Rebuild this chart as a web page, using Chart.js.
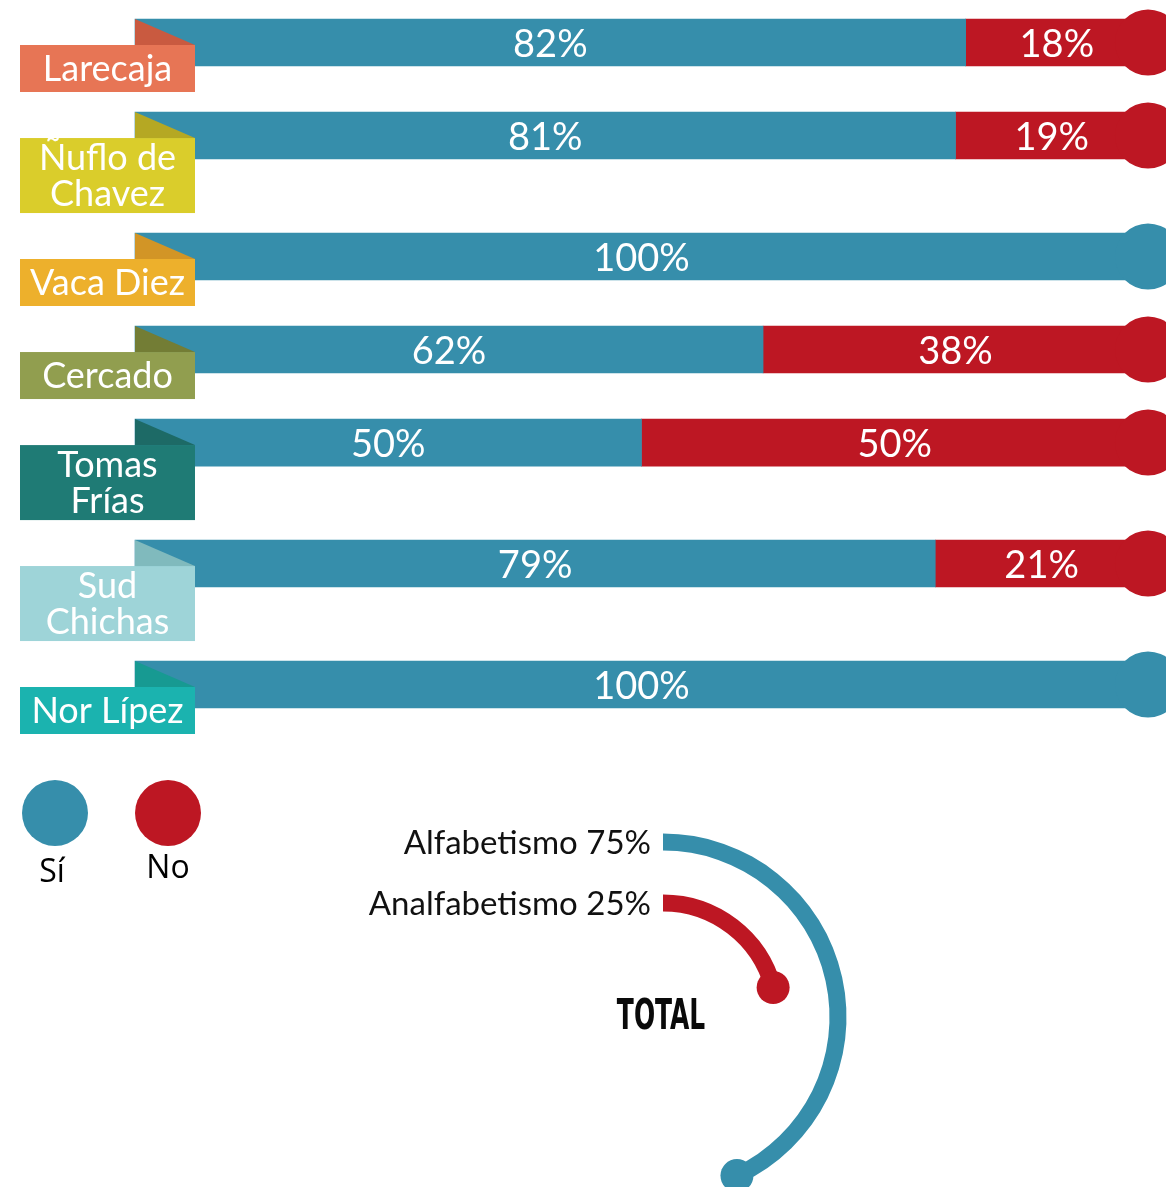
<!DOCTYPE html>
<html><head><meta charset="utf-8">
<script src="https://cdn.jsdelivr.net/npm/chart.js@4/dist/chart.umd.min.js"></script>
<style>
html,body{margin:0;padding:0;background:#fff;overflow:hidden;}
#wrap{position:relative;width:1166px;height:1187px;}
canvas{position:absolute;left:0;top:0;}
</style></head><body>
<div id="wrap">
<canvas id="bars" width="1166" height="1187"></canvas>
<canvas id="total" width="1166" height="1187"></canvas>
</div>
<script>
// ---------- DATA ----------
const categories = ['Larecaja', 'Ñuflo de\nChavez', 'Vaca Diez', 'Cercado', 'Tomas\nFrías', 'Sud\nChichas', 'Nor Lípez'];
const siValues = [82, 81, 100, 62, 50, 79, 100];
const noValues = [18, 19, 0, 38, 50, 21, 0];
const seriesNames = ['Sí', 'No'];
const totalLabels = ['Alfabetismo', 'Analfabetismo'];
const totalValues = [75, 25];
const totalTitle = 'TOTAL';

// ---------- STYLE ----------
const BLUE = '#368eab', RED = '#bd1723';
const boxColors  = ['#e77555', '#dacd2b', '#edb02c', '#919e4f', '#1f7b75', '#9ed4d8', '#1bb3af'];
const foldColors = ['#c95a40', '#b5a823', '#d29526', '#737d35', '#1d6a66', '#80babd', '#179a92'];
const LABEL_FONT = "Lato, 'Open Sans', sans-serif";
const arcSweepDeg = [155, 75]; // drawn sweep of each ring (design)

// rows: taller spacing after two-line labels
const lines = categories.map(c => c.split('\n'));
const rowPos = [];
lines.forEach((l, i) => rowPos.push(i === 0 ? 0 : rowPos[i - 1] + 1 + 0.3 * (lines[i - 1].length - 1)));

const ribbonPlugin = {
  id: 'ribbons',
  afterDatasetsDraw(chart) {
    const ctx = chart.ctx, xs = chart.scales.x, ys = chart.scales.y;
    const metas = [chart.getDatasetMeta(0), chart.getDatasetMeta(1)];
    const vals = [siValues, noValues];
    ctx.save();
    categories.forEach((cat, i) => {
      const cy = ys.getPixelForValue(rowPos[i]);
      const half = 23.5;
      const top = cy - half;
      // round cap at bar end
      ctx.fillStyle = noValues[i] > 0 ? RED : BLUE;
      ctx.beginPath();
      ctx.arc(xs.getPixelForValue(100), cy, 33, 0, Math.PI * 2);
      ctx.fill();
      // value labels
      ctx.fillStyle = '#fff';
      ctx.font = '38px ' + LABEL_FONT;
      ctx.textAlign = 'center';
      ctx.textBaseline = 'middle';
      metas.forEach((m, d) => {
        const v = vals[d][i];
        if (!v) return;
        const el = m.data[i];
        const p = el.getProps(['x', 'base', 'y'], true);
        ctx.fillText(v + '%', (p.x + p.base) / 2, p.y + 2);
      });
      // ribbon label
      const x0 = xs.left;
      const boxTop = top + 26;
      const boxH = lines[i].length > 1 ? 75 : 47;
      ctx.fillStyle = foldColors[i];
      ctx.beginPath();
      ctx.moveTo(x0, top);
      ctx.lineTo(x0, boxTop);
      ctx.lineTo(x0 + 60, boxTop);
      ctx.closePath();
      ctx.fill();
      ctx.fillStyle = boxColors[i];
      ctx.fillRect(20, boxTop, x0 + 60 - 20, boxH);
      ctx.fillStyle = '#fff';
      ctx.font = '36px ' + LABEL_FONT;
      const lh = 36;
      const cx = (20 + x0 + 60) / 2;
      const mid = boxTop + boxH / 2;
      lines[i].forEach((t, k) => {
        ctx.fillText(t, cx, mid + (k - (lines[i].length - 1) / 2) * lh + 1);
      });
    });
    // legend
    const legendX = [55, 168];
    [BLUE, RED].forEach((c, k) => {
      ctx.fillStyle = c;
      ctx.beginPath();
      ctx.arc(legendX[k], 813, 33, 0, Math.PI * 2);
      ctx.fill();
      ctx.fillStyle = '#000';
      ctx.font = "32px 'Open Sans', sans-serif";
      ctx.textAlign = 'center';
      ctx.textBaseline = 'middle';
      ctx.fillText(seriesNames[k], legendX[k] - (k === 0 ? 3 : 0), k === 0 ? 873 : 869);
    });
    ctx.restore();
  }
};

new Chart(document.getElementById('bars'), {
  type: 'bar',
  data: {
    datasets: [
      { label: seriesNames[0], data: siValues.map((v, i) => ({ y: rowPos[i], x: [0, v] })), backgroundColor: BLUE },
      { label: seriesNames[1], data: noValues.map((v, i) => ({ y: rowPos[i], x: [siValues[i], siValues[i] + v] })), backgroundColor: RED }
    ]
  },
  options: {
    indexAxis: 'y',
    responsive: false,
    animation: false,
    events: [],
    layout: { padding: { left: 135, right: 18, top: 42.5, bottom: 502.5 } },
    datasets: { bar: { barThickness: 47, borderWidth: 0, clip: false, grouped: false } },
    scales: {
      x: { type: 'linear', min: 0, max: 100, display: false, offset: false },
      y: { type: 'linear', min: 0, max: rowPos[rowPos.length - 1], reverse: true, display: false, offset: false }
    },
    plugins: { legend: { display: false }, tooltip: { enabled: false } }
  },
  plugins: [ribbonPlugin]
});

// ---------- TOTAL rings ----------
const totalPlugin = {
  id: 'totalDeco',
  afterDatasetsDraw(chart) {
    const ctx = chart.ctx;
    ctx.save();
    const ringIdx = [0, 2];
    const colors = [BLUE, RED];
    let cx0 = 0, cy0 = 0;
    ringIdx.forEach((di, k) => {
      const el = chart.getDatasetMeta(di).data[0];
      const p = el.getProps(['x', 'y', 'startAngle', 'endAngle', 'innerRadius', 'outerRadius'], true);
      const r = (p.innerRadius + p.outerRadius) / 2;
      cx0 = p.x; cy0 = p.y;
      // end dot
      ctx.fillStyle = colors[k];
      ctx.beginPath();
      ctx.arc(p.x + r * Math.cos(p.endAngle), p.y + r * Math.sin(p.endAngle), 16.5, 0, Math.PI * 2);
      ctx.fill();
      // label at arc start
      const sx = p.x + r * Math.cos(p.startAngle), sy = p.y + r * Math.sin(p.startAngle);
      ctx.fillStyle = '#111';
      ctx.font = '33px ' + LABEL_FONT;
      ctx.textAlign = 'right';
      ctx.textBaseline = 'middle';
      ctx.fillText(totalLabels[k] + ' ' + totalValues[k] + '%', sx - 12, sy + 1);
    });
    // title
    ctx.font = "bold 42px 'Liberation Sans Narrow', 'DejaVu Sans Condensed', sans-serif";
    ctx.fillStyle = '#0a0a0a';
    ctx.textAlign = 'center';
    ctx.textBaseline = 'middle';
    ctx.translate(cx0 - 2, cy0 + 1);
    ctx.scale(0.66, 1);
    ctx.fillText(totalTitle, 0, 0);
    ctx.restore();
  }
};

new Chart(document.getElementById('total'), {
  type: 'doughnut',
  data: {
    labels: ['value', 'rest'],
    datasets: [
      { data: [totalValues[0], 100 - totalValues[0]], backgroundColor: [BLUE, 'rgba(0,0,0,0)'], weight: 17,
        circumference: arcSweepDeg[0] * 100 / totalValues[0] },
      { data: [100], backgroundColor: ['rgba(0,0,0,0)'], weight: 44, circumference: 360 },
      { data: [totalValues[1], 100 - totalValues[1]], backgroundColor: [RED, 'rgba(0,0,0,0)'], weight: 17,
        circumference: arcSweepDeg[1] * 100 / totalValues[1] }
    ]
  },
  options: {
    responsive: false,
    animation: false,
    events: [],
    rotation: 0,
    radius: 183.5,
    cutout: (105.5 / 183.5 * 100) + '%',
    borderWidth: 0,
    layout: { padding: { left: 340, right: 180, top: 847, bottom: 0 } },
    plugins: { legend: { display: false }, tooltip: { enabled: false } }
  },
  plugins: [totalPlugin]
});
</script>
</body></html>
